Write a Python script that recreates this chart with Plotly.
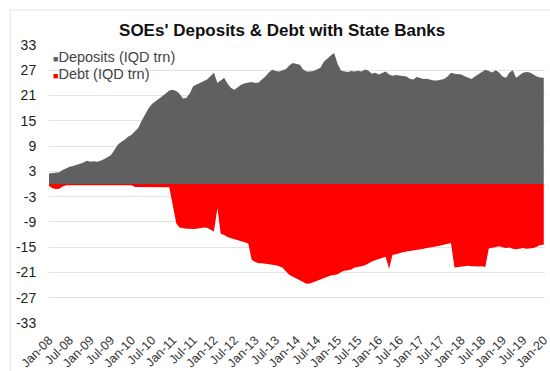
import pandas as pd
import plotly.graph_objects as go

months = pd.date_range("2008-01-01", "2020-01-01", freq="MS")

deposits = [
    2.5, 2.6, 2.7, 2.8, 3.3, 3.8, 4.1, 4.3, 4.5, 4.8, 5.1, 5.5,
    5.3, 5.4, 5.3, 5.5, 5.9, 6.3, 6.8, 8.0, 9.3, 10.0, 10.5, 11.2,
    11.7, 12.5, 13.3, 15.0, 16.5, 18.0, 19.0, 19.6, 20.2, 20.8, 21.5, 22.2,
    22.4, 22.1, 21.5, 20.3, 20.4, 21.5, 23.2, 23.6, 24.0, 24.4, 24.8, 25.6,
    26.4, 24.0, 24.5, 25.2, 23.8, 22.8, 22.4, 23.0, 23.6, 23.9, 24.1, 24.2,
    24.0, 24.1, 24.8, 25.5, 26.5, 27.1, 26.8, 26.7, 27.0, 27.3, 28.2, 28.7,
    28.5, 28.3, 27.2, 26.7, 26.7, 26.8, 27.2, 27.6, 29.0, 29.8, 30.5, 31.1,
    28.5, 26.9, 26.7, 26.6, 26.8, 26.7, 26.9, 26.7, 27.2, 26.9, 26.2, 26.4,
    26.0, 26.3, 26.7, 26.0, 25.7, 25.9, 25.8, 25.6, 25.5, 25.0, 24.8, 25.4,
    25.1, 24.9, 25.0, 24.8, 24.6, 24.6, 24.8, 24.9, 25.5, 26.4, 26.2, 26.1,
    26.0, 25.6, 25.2, 24.9, 25.5, 26.0, 26.6, 27.1, 26.8, 26.5, 27.0, 26.5,
    25.5, 25.2, 26.4, 27.0, 25.2, 25.8, 26.4, 26.6, 26.5, 26.0, 25.5, 25.3,
    25.2,
]

debt = [
    -0.5, -1.0, -1.2, -1.1, -0.6, -0.3, -0.3, -0.3, -0.3, -0.3, -0.3, -0.3,
    -0.3, -0.3, -0.3, -0.3, -0.3, -0.3, -0.3, -0.3, -0.3, -0.3, -0.3, -0.3,
    -0.3, -0.7, -0.7, -0.7, -0.7, -0.7, -0.7, -0.7, -0.7, -0.7, -0.7, -0.8,
    -5.0, -9.3, -10.3, -10.5, -10.6, -10.6, -10.7, -10.6, -10.5, -10.3, -10.4, -10.9,
    -11.3, -5.7, -11.8, -12.1, -12.6, -12.9, -13.1, -13.3, -13.5, -13.8, -14.2, -18.0,
    -18.5, -18.8, -18.8, -18.9, -19.1, -19.2, -19.3, -19.5, -19.9, -20.8, -21.6, -22.0,
    -22.4, -22.8, -23.3, -23.7, -23.6, -23.3, -22.9, -22.7, -22.4, -22.0, -21.7, -21.6,
    -21.4, -20.9, -20.6, -20.5, -20.3, -19.8, -19.7, -19.5, -19.3, -18.8, -18.4, -18.1,
    -17.8, -17.5, -17.3, -20.1, -16.8, -16.7, -16.4, -16.2, -16.0, -15.9, -15.7, -15.6,
    -15.5, -15.4, -15.2, -15.1, -14.9, -14.8, -14.6, -14.4, -14.2, -14.0, -19.8, -19.7,
    -19.6, -19.5, -19.4, -19.5, -19.6, -19.6, -19.5, -19.7, -15.3, -15.1, -14.9, -14.8,
    -15.0, -15.2, -15.1, -15.4, -15.5, -15.3, -15.2, -15.4, -15.3, -15.2, -14.9, -14.5,
    -14.4,
]

series_names = ["Deposits (IQD trn)", "Debt (IQD trn)"]
series_colors = ["#606060", "#ff0000"]
title_text = "SOEs' Deposits & Debt with State Banks"
y_ticks = [-33, -27, -21, -15, -9, -3, 3, 9, 15, 21, 27, 33]

FONT = "Liberation Sans, Arial, Helvetica, sans-serif"

fig = go.Figure()
for vals, name, col in zip([deposits, debt], series_names, series_colors):
    fig.add_trace(go.Scatter(
        x=months, y=vals, name=name, mode="lines",
        line=dict(width=0, color=col), fill="tozeroy", fillcolor=col,
        showlegend=False,
    ))

# legend as annotations
for i, (name, col) in enumerate(zip(series_names, series_colors)):
    fig.add_annotation(
        xref="paper", yref="paper", x=0.004, y=0.957 - i * 0.061,
        xanchor="left", yanchor="middle", showarrow=False,
        text=f"<span style='color:{col};font-size:9px'>■</span>{name}",
        font=dict(family=FONT, size=14.5, color="#444444"),
    )

# faint outer frame
fig.add_shape(type="rect", xref="paper", yref="paper",
              x0=-0.078, x1=1.2, y0=-0.6, y1=1.126,
              line=dict(color="#e4e4e4", width=1), fillcolor="rgba(0,0,0,0)",
              layer="below")

fig.update_layout(
    width=550, height=371,
    margin=dict(l=49, r=0, t=45, b=48),
    paper_bgcolor="white", plot_bgcolor="white",
    title=dict(text=f"<b>{title_text}</b>", x=0.513, xanchor="center",
               y=0.919, yanchor="middle",
               font=dict(family=FONT, size=17, color="#111111")),
    font=dict(family=FONT),
    xaxis=dict(
        type="date", range=["2008-01-01", "2020-01-12"],
        tick0="2008-01-01", dtick="M6", tickformat="%b-%y",
        tickangle=-45, showgrid=False, zeroline=False, showline=False,
        ticks="outside", ticklen=4, tickcolor="rgba(0,0,0,0)",
        ticklabeloverflow="allow",
        tickfont=dict(family=FONT, size=12.5, color="#333333"),
    ),
    yaxis=dict(
        range=[-33, 33], tickvals=y_ticks, ticktext=[str(v) for v in y_ticks],
        showgrid=True, gridcolor="#e2e2e2", gridwidth=1,
        zeroline=True, zerolinecolor="#f2b8b8", zerolinewidth=1,
        ticks="outside", ticklen=9, tickcolor="rgba(0,0,0,0)",
        tickfont=dict(family=FONT, size=14, color="#222222"),
        showline=False,
    ),
)

fig.write_html("out.html")
